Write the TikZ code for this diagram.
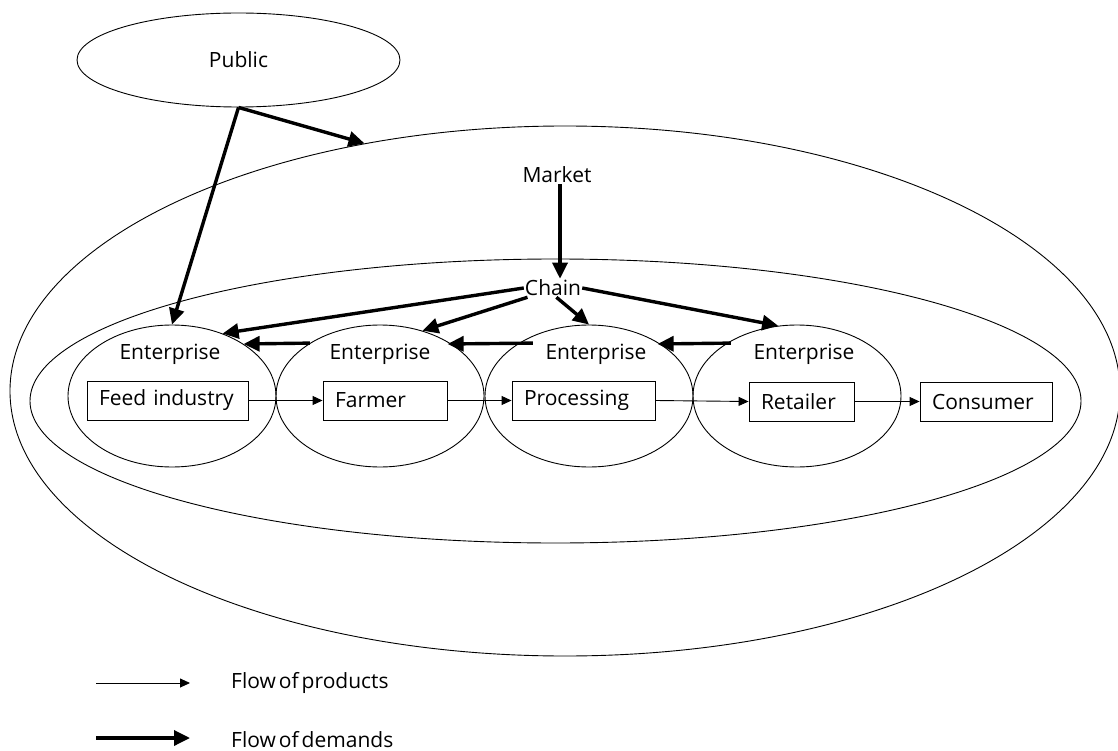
\documentclass[tikz,border=0pt]{standalone}
\usepackage{fontspec}
\setmainfont{Open Sans}
\newfontfamily\legendfont{Open Sans}[WordSpace=0.55]
\usetikzlibrary{shapes.geometric,arrows.meta}
\begin{document}
\begin{tikzpicture}[x=1pt,y=-1pt,
  every node/.style={font=\fontsize{21}{25}\selectfont},
  oval/.style={draw,ellipse,line width=0.9pt,inner sep=0pt},
  lbl/.style={inner sep=1pt},
  stage/.style={draw,line width=0.9pt,minimum height=39pt,inner xsep=12pt,inner ysep=0pt,align=left},
  product/.style={line width=0.9pt,-{Triangle[length=10pt,width=9pt]}},
  demand/.style={line width=3.4pt,-{Triangle[length=16pt,width=15pt]}}]
\useasboundingbox (0,0) rectangle (1118,751);
% ellipses
\node[oval,minimum width=323pt,minimum height=94pt] (public) at (238.5,60) {Public};
\node[oval,minimum width=1110pt,minimum height=530pt] (market) at (565,391) {};
\node[oval,minimum width=1051pt,minimum height=284pt] (chain) at (555.5,401) {};
\node[oval,minimum width=208pt,minimum height=142pt] (e1) at (172,396) {};
\node[oval,minimum width=208pt,minimum height=142pt] (e2) at (380,396) {};
\node[oval,minimum width=208pt,minimum height=142pt] (e3) at (589,396) {};
\node[oval,minimum width=208pt,minimum height=142pt] (e4) at (797,396) {};
% labels
\node[lbl] (marketlbl) at (557,175) {Market};
\node[lbl] (chainlbl) at (553,288) {Chain};
\node[lbl] (ent1) at (170,354) {Enterprise};
\node[lbl] (ent2) at (380,354) {Enterprise};
\node[lbl] (ent3) at (596,354) {Enterprise};
\node[lbl] (ent4) at (804,354) {Enterprise};
% stage boxes
\node[stage,text width=137pt] (feed) at (167.5,400.5) {Feed industry};
\node[stage,text width=100pt] (farmer) at (385,400.5) {Farmer};
\node[stage,text width=119pt] (proc) at (583.5,400.5) {Processing};
\node[stage,text width=81pt] (retail) at (801.5,401.5) {Retailer};
\node[stage,text width=108pt] (cons) at (986,401.5) {Consumer};
% product flows
\draw[product] (feed.east) -- (farmer.west);
\draw[product] (farmer.east) -- (proc.west);
\draw[product] (proc.east) -- (retail.west);
\draw[product] (retail.east) -- (cons.west);
% demand flows
\draw[demand] (public.south) -- (market.129.8);
\draw[demand] (public.south) -- (e1.north);
\draw[demand] ([xshift=3pt]marketlbl.south) -- ([xshift=7pt]chainlbl.north);
\draw[demand] (chainlbl.west) -- (e1.51.6);
\draw[demand] (chainlbl.200) -- (e2.57.6);
\draw[demand] (chainlbl.-70) -- (e3.90);
\draw[demand] (chainlbl.east) -- (e4.105.7);
\draw[demand] (e2.143.8) -- (e1.36.2);
\draw[demand] ([xshift=14pt]e3.143.8) -- ([xshift=-4pt]e2.36.2);
\draw[demand] ([xshift=4pt]e4.143.8) -- ([xshift=-3pt]e3.36.2);
% legend
\coordinate (p1) at (96,683);
\coordinate (p2) at (190,683);
\coordinate (d1) at (96,738);
\coordinate (d2) at (190,738);
\draw[product] (p1) -- (p2);
\draw[demand] (d1) -- (d2);
\node[lbl,anchor=west,font=\fontsize{21}{25}\legendfont] (lp) at (230,683) {Flow of products};
\node[lbl,anchor=west,font=\fontsize{21}{25}\legendfont] (ld) at (230,740) {Flow of demands};
\end{tikzpicture}
\end{document}
